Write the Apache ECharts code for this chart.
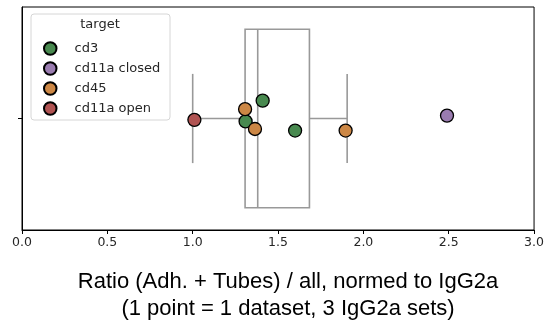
<!DOCTYPE html>
<html>
<head>
<meta charset="utf-8">
<script src="https://cdn.jsdelivr.net/npm/echarts@6/dist/echarts.min.js"></script>
<style>html,body{margin:0;padding:0;background:#fff}#c{width:547px;height:327px}</style>
</head>
<body>
<div id="c"></div>
<script>
// ---- data ----
const targets = ['cd3', 'cd11a closed', 'cd45', 'cd11a open'];
const targetColors = ['#48894f', '#9a7cb0', '#cc8745', '#b05352'];
const cd3Values = [1.41, 1.31, 1.60];
const cd3Jitter = [0.080, -0.013, -0.054];
const cd11aClosedValues = [2.49];
const cd11aClosedJitter = [0.013];
const cd45Values = [1.307, 1.365, 1.896];
const cd45Jitter = [0.042, -0.047, -0.054];
const cd11aOpenValues = [1.01];
const cd11aOpenJitter = [-0.006];
// box stats: [whisker low, Q1, median, Q3, whisker high]
const boxStats = [1.00, 1.307, 1.381, 1.684, 1.905];
const xTicks = [0, 0.5, 1.0, 1.5, 2.0, 2.5, 3.0];
const xTitle = 'Ratio (Adh. + Tubes) / all, normed to IgG2a\n(1 point = 1 dataset, 3 IgG2a sets)';

const valuesByTarget = [cd3Values, cd11aClosedValues, cd45Values, cd11aOpenValues];
const jitterByTarget = [cd3Jitter, cd11aClosedJitter, cd45Jitter, cd11aOpenJitter];

const chart = echarts.init(document.getElementById('c'), null, {renderer: 'canvas'});
const boxColor = '#999999';

const boxSeries = {
  type: 'custom',
  name: 'box',
  silent: true,
  clip: false,
  z: 1,
  data: [boxStats],
  encode: {x: [0, 1, 2, 3, 4]},
  renderItem: function (params, api) {
    const lo = api.value(0), q1 = api.value(1), med = api.value(2), q3 = api.value(3), hi = api.value(4);
    const hw = 0.4, cw = 0.2;
    const a = api.coord([q1, hw]);
    const b = api.coord([q3, -hw]);
    const st = {stroke: boxColor, lineWidth: 1.6, fill: null};
    const line = (p1, p2) => ({type: 'line', shape: {x1: p1[0], y1: p1[1], x2: p2[0], y2: p2[1]}, style: st});
    return {
      type: 'group',
      children: [
        {type: 'rect', shape: {x: a[0], y: a[1], width: b[0] - a[0], height: b[1] - a[1]}, style: st},
        line(api.coord([med, hw]), api.coord([med, -hw])),
        line(api.coord([lo, 0]), api.coord([q1, 0])),
        line(api.coord([q3, 0]), api.coord([hi, 0])),
        line(api.coord([lo, cw]), api.coord([lo, -cw])),
        line(api.coord([hi, cw]), api.coord([hi, -cw]))
      ]
    };
  }
};

const scatterSeries = targets.map((t, i) => ({
  type: 'scatter',
  name: t,
  z: 3,
  symbol: 'circle',
  symbolSize: 13,
  itemStyle: {color: targetColors[i], borderColor: '#000', borderWidth: 1.3, opacity: 1},
  data: valuesByTarget[i].map((v, k) => [v, jitterByTarget[i][k]])
}));

const txt = '#262626';
chart.setOption({
  animation: false,
  backgroundColor: '#fff',
  grid: {left: 22, right: 12, top: 7, bottom: 96, show: true, borderColor: '#000', borderWidth: 1, backgroundColor: 'transparent'},
  xAxis: {
    type: 'value', min: 0, max: 3, interval: 0.5,
    axisLine: {show: true, onZero: false, lineStyle: {color: '#000', width: 1}},
    axisTick: {show: true, length: 4, lineStyle: {color: '#000'}},
    splitLine: {show: false},
    axisLabel: {color: txt, fontSize: 12.5, fontFamily: 'DejaVu Sans', margin: 6, formatter: v => v.toFixed(1)},
    name: xTitle,
    nameLocation: 'middle',
    nameGap: 39,
    nameTextStyle: {color: '#000', fontSize: 22, fontFamily: 'Liberation Sans, Arial, sans-serif', lineHeight: 26.5, padding: [0, 0, 0, 20]}
  },
  yAxis: {
    type: 'value', min: -0.5, max: 0.5,
    axisLine: {show: true, onZero: false, lineStyle: {color: '#000', width: 1}},
    axisTick: {show: true, length: 4, customValues: [0], lineStyle: {color: '#000'}},
    axisLabel: {show: false},
    splitLine: {show: false}
  },
  graphic: [
    {type: 'rect', z: 3, shape: {x: 31, y: 14, width: 139, height: 106, r: 3}, style: {fill: 'rgba(255,255,255,0.85)', stroke: '#d6d6d6', lineWidth: 1}},
    {type: 'text', z: 5, style: {x: 100, y: 25, text: 'target', align: 'center', verticalAlign: 'middle', fontSize: 13, fontFamily: 'DejaVu Sans', fill: txt}}
  ],
  legend: {
    show: true,
    orient: 'vertical',
    left: 43, top: 41,
    padding: 0,
    z: 5,
    itemWidth: 12.5, itemHeight: 12.5,
    itemGap: 5,
    icon: 'circle',
    selectedMode: false,
    data: targets,
    textStyle: {color: txt, fontSize: 13, fontFamily: 'DejaVu Sans', lineHeight: 15, padding: [0, 0, 0, 13]}
  },
  series: [boxSeries].concat(scatterSeries)
});
</script>
</body>
</html>
